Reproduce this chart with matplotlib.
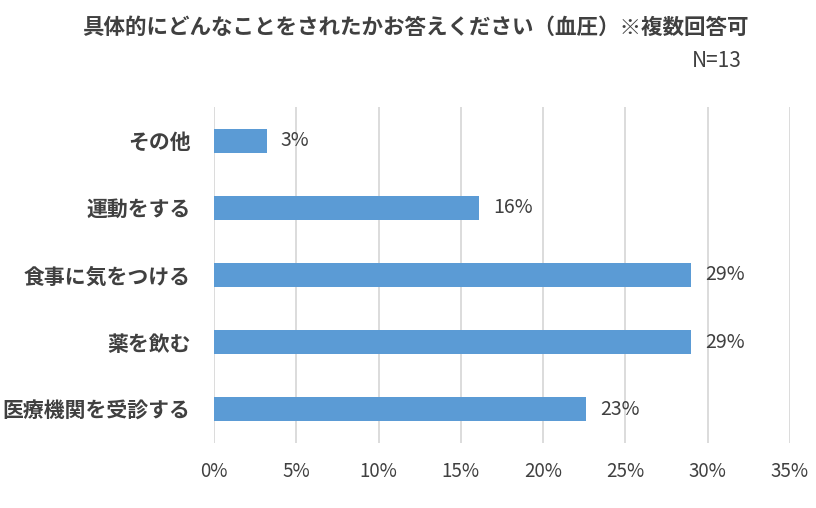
import matplotlib
matplotlib.use("Agg")
import matplotlib.pyplot as plt

plt.rcParams['font.family'] = ['Noto Sans CJK JP', 'DejaVu Sans']

categories = ["医療機関を受診する", "薬を飲む", "食事に気をつける", "運動をする", "その他"]
values = [22.6, 29.0, 29.0, 16.1, 3.2]
xticks = [0, 5, 10, 15, 20, 25, 30, 35]
title = "具体的にどんなことをされたかお答えください（血圧）※複数回答可"
note = "N=13"

text_color = "#404040"
bar_color = "#5B9BD5"

fig = plt.figure(figsize=(8.16, 5.08), dpi=100)
ax = fig.add_axes([214/816, 65/508, 576/816, 336/508])

y = list(range(len(categories)))
ax.barh(y, values, height=0.36, color=bar_color, zorder=3)
for yi, v in zip(y, values):
    ax.annotate(f"{round(v)}%", xy=(v, yi), xytext=(10, 0), textcoords="offset points",
                va="center", ha="left", fontsize=14, color=text_color)

ax.set_xlim(0, 35)
ax.set_ylim(-0.5, len(categories) - 0.5)
ax.set_xticks(xticks)
ax.set_xticklabels([f"{t}%" for t in xticks], fontsize=13.5, color=text_color)
ax.set_yticks(y)
ax.set_yticklabels(categories, fontsize=15, color=text_color, fontweight="bold")
ax.tick_params(axis="x", length=0, pad=13)
ax.tick_params(axis="y", length=0, pad=17)
ax.grid(axis="x", color="#D9D9D9", linewidth=1.3, zorder=0)
for s in ax.spines.values():
    s.set_visible(False)

fig.text(415/816, 1 - 27/508, title, ha="center", va="center", fontsize=15.5,
         fontweight="bold", color=text_color)
fig.text(742/816, 1 - 61/508, note, ha="right", va="center", fontsize=15,
         color=text_color)

fig.savefig("out.png", dpi=100)
